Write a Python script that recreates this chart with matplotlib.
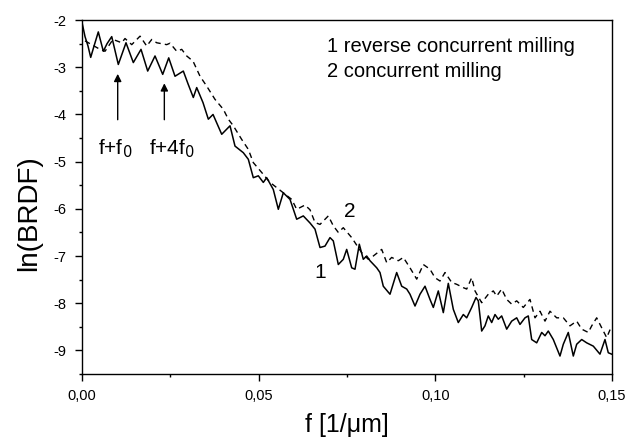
import numpy as np
import matplotlib
matplotlib.use('Agg')
import matplotlib.pyplot as plt
from matplotlib.ticker import MultipleLocator, FuncFormatter

plt.rcParams['font.family'] = ['Liberation Sans', 'DejaVu Sans']

# curva 1: reverse concurrent milling (linea continua)
f1 = [0.00000, 0.00085, 0.00170, 0.00246, 0.00340, 0.00461, 0.00603, 0.00708, 0.00841, 0.01027,
      0.01245, 0.01452, 0.01670, 0.01859, 0.02066, 0.02284, 0.02454, 0.02632, 0.02867, 0.03000,
      0.03150, 0.03246, 0.03425, 0.03575, 0.03708, 0.03954, 0.04189, 0.04330, 0.04565, 0.04707,
      0.04848, 0.04990, 0.05131, 0.05227, 0.05414, 0.05556, 0.05697, 0.05887, 0.06076, 0.06263,
      0.06453, 0.06594, 0.06736, 0.06877, 0.07019, 0.07112, 0.07254, 0.07395, 0.07491, 0.07633,
      0.07726, 0.07848, 0.07961, 0.08058, 0.08151, 0.08341, 0.08434, 0.08527, 0.08717, 0.08906,
      0.09048, 0.09190, 0.09283, 0.09425, 0.09566, 0.09708, 0.09849, 0.09943, 0.10084, 0.10226,
      0.10367, 0.10509, 0.10650, 0.10792, 0.10888, 0.11029, 0.11151, 0.11216, 0.11312, 0.11405,
      0.11499, 0.11595, 0.11689, 0.11782, 0.11878, 0.12020, 0.12161, 0.12303, 0.12396, 0.12538,
      0.12631, 0.12727, 0.12869, 0.13011, 0.13104, 0.13197, 0.13339, 0.13528, 0.13622, 0.13763,
      0.13905, 0.14001, 0.14143, 0.14284, 0.14471, 0.14660, 0.14802, 0.14895, 0.14991]
ln1 = [-2.05, -2.35, -2.55, -2.79, -2.55, -2.25, -2.66, -2.50, -2.35, -2.94,
       -2.48, -2.90, -2.62, -3.08, -2.76, -3.15, -2.80, -3.19, -3.08, -3.35,
       -3.64, -3.43, -3.75, -4.10, -4.00, -4.42, -4.24, -4.67, -4.81, -4.95,
       -5.34, -5.30, -5.44, -5.34, -5.59, -6.01, -5.66, -5.80, -6.22, -6.15,
       -6.30, -6.43, -6.82, -6.79, -6.61, -6.68, -7.18, -7.07, -6.86, -7.25,
       -7.28, -6.75, -7.07, -7.00, -7.10, -7.25, -7.35, -7.64, -7.81, -7.35,
       -7.64, -7.70, -7.81, -8.06, -7.81, -7.64, -7.92, -8.09, -7.74, -8.20,
       -7.58, -8.13, -8.41, -8.24, -8.31, -8.09, -7.88, -7.95, -8.59, -8.48,
       -8.27, -8.41, -8.24, -8.34, -8.27, -8.55, -8.38, -8.31, -8.45, -8.31,
       -8.27, -8.77, -8.84, -8.62, -8.69, -8.59, -8.77, -9.12, -8.87, -8.62,
       -9.12, -8.87, -8.77, -8.84, -8.91, -9.08, -8.77, -9.05, -9.08]

# curva 2: concurrent milling (linea discontinua)
f2 = [0.00085, 0.00509, 0.00651, 0.00877, 0.01124, 0.01217, 0.01407, 0.01642, 0.01831, 0.01973,
      0.02114, 0.02397, 0.02491, 0.02680, 0.02822, 0.02963, 0.03142, 0.03340, 0.03529, 0.03764,
      0.03999, 0.04141, 0.04282, 0.04520, 0.04707, 0.04848, 0.05086, 0.05321, 0.05510, 0.05697,
      0.05935, 0.06076, 0.06311, 0.06453, 0.06594, 0.06736, 0.06971, 0.07112, 0.07254, 0.07395,
      0.07633, 0.07916, 0.08103, 0.08244, 0.08482, 0.08624, 0.08765, 0.08952, 0.09094, 0.09283,
      0.09473, 0.09660, 0.09849, 0.09991, 0.10132, 0.10274, 0.10463, 0.10605, 0.10792, 0.10888,
      0.11029, 0.11123, 0.11312, 0.11499, 0.11641, 0.11737, 0.11878, 0.12020, 0.12161, 0.12303,
      0.12490, 0.12679, 0.12821, 0.12962, 0.13104, 0.13245, 0.13435, 0.13622, 0.13811, 0.14001,
      0.14143, 0.14330, 0.14426, 0.14567, 0.14708, 0.14850, 0.14991]
ln2 = [-2.44, -2.62, -2.66, -2.41, -2.48, -2.39, -2.52, -2.34, -2.55, -2.41,
       -2.48, -2.52, -2.49, -2.66, -2.62, -2.76, -2.87, -3.19, -3.40, -3.68,
       -3.89, -4.10, -4.24, -4.53, -4.74, -5.02, -5.23, -5.44, -5.55, -5.66,
       -5.80, -6.01, -5.92, -6.02, -6.29, -6.33, -6.15, -6.36, -6.50, -6.40,
       -6.61, -6.93, -7.07, -7.00, -6.86, -7.14, -7.03, -7.10, -7.03, -7.25,
       -7.49, -7.18, -7.28, -7.46, -7.53, -7.35, -7.56, -7.60, -7.67, -7.70,
       -7.46, -7.74, -7.99, -7.81, -7.74, -7.85, -7.70, -7.92, -8.02, -7.95,
       -8.09, -7.92, -8.31, -8.17, -8.38, -8.17, -8.31, -8.31, -8.48, -8.38,
       -8.55, -8.62, -8.48, -8.31, -8.52, -8.73, -8.48]

fig = plt.figure(figsize=(6.28, 4.41), dpi=100)
ax = fig.add_axes([0.1306, 0.152, 0.8439, 0.8024])

ax.plot(f1, ln1, color='black', lw=1.1)
ax.plot(f2, ln2, color='black', lw=1.0, linestyle=(0, (4, 3)))

ax.set_xlim(0, 0.15)
ax.set_ylim(-9.5, -2)
ax.xaxis.set_major_locator(MultipleLocator(0.05))
ax.xaxis.set_minor_locator(MultipleLocator(0.025))
ax.yaxis.set_major_locator(MultipleLocator(1))
ax.yaxis.set_minor_locator(MultipleLocator(0.5))
ax.xaxis.set_major_formatter(FuncFormatter(lambda v, p: f'{v:.2f}'.replace('.', ',')))
ax.yaxis.set_major_formatter(FuncFormatter(lambda v, p: f'{v:.0f}'))
ax.tick_params(which='major', direction='out', length=5, width=1, labelsize=10.5, pad=6)
ax.tick_params(which='minor', direction='out', length=2.3, width=1)
for s in ax.spines.values():
    s.set_linewidth(1)

ax.set_xlabel('f [1/\u03bcm]', fontsize=18, labelpad=7)
ax.set_ylabel('ln(BRDF)', fontsize=20)
ax.yaxis.set_label_coords(-0.076, 0.455)

ax.text(0.0693, -2.557, '1 reverse concurrent milling', fontsize=14.5, va='center')
ax.text(0.0693, -3.087, '2 concurrent milling', fontsize=14.5, va='center')
ax.text(0.0758, -6.05, '2', fontsize=15, ha='center', va='center')
ax.text(0.0673, -7.35, '1', fontsize=15, ha='center', va='center')

# flechas de los picos
ax.annotate('', xy=(0.0101, -3.08), xytext=(0.0101, -4.17),
            arrowprops=dict(arrowstyle='-|>', color='black', lw=1, mutation_scale=11))
ax.annotate('', xy=(0.0233, -3.28), xytext=(0.0233, -4.17),
            arrowprops=dict(arrowstyle='-|>', color='black', lw=1, mutation_scale=11))
ax.text(0.0093, -4.72, 'f+f$_0$', fontsize=15, ha='center', va='center')
ax.text(0.0255, -4.72, 'f+4f$_0$', fontsize=15, ha='center', va='center')

fig.savefig('out.png', dpi=100)
